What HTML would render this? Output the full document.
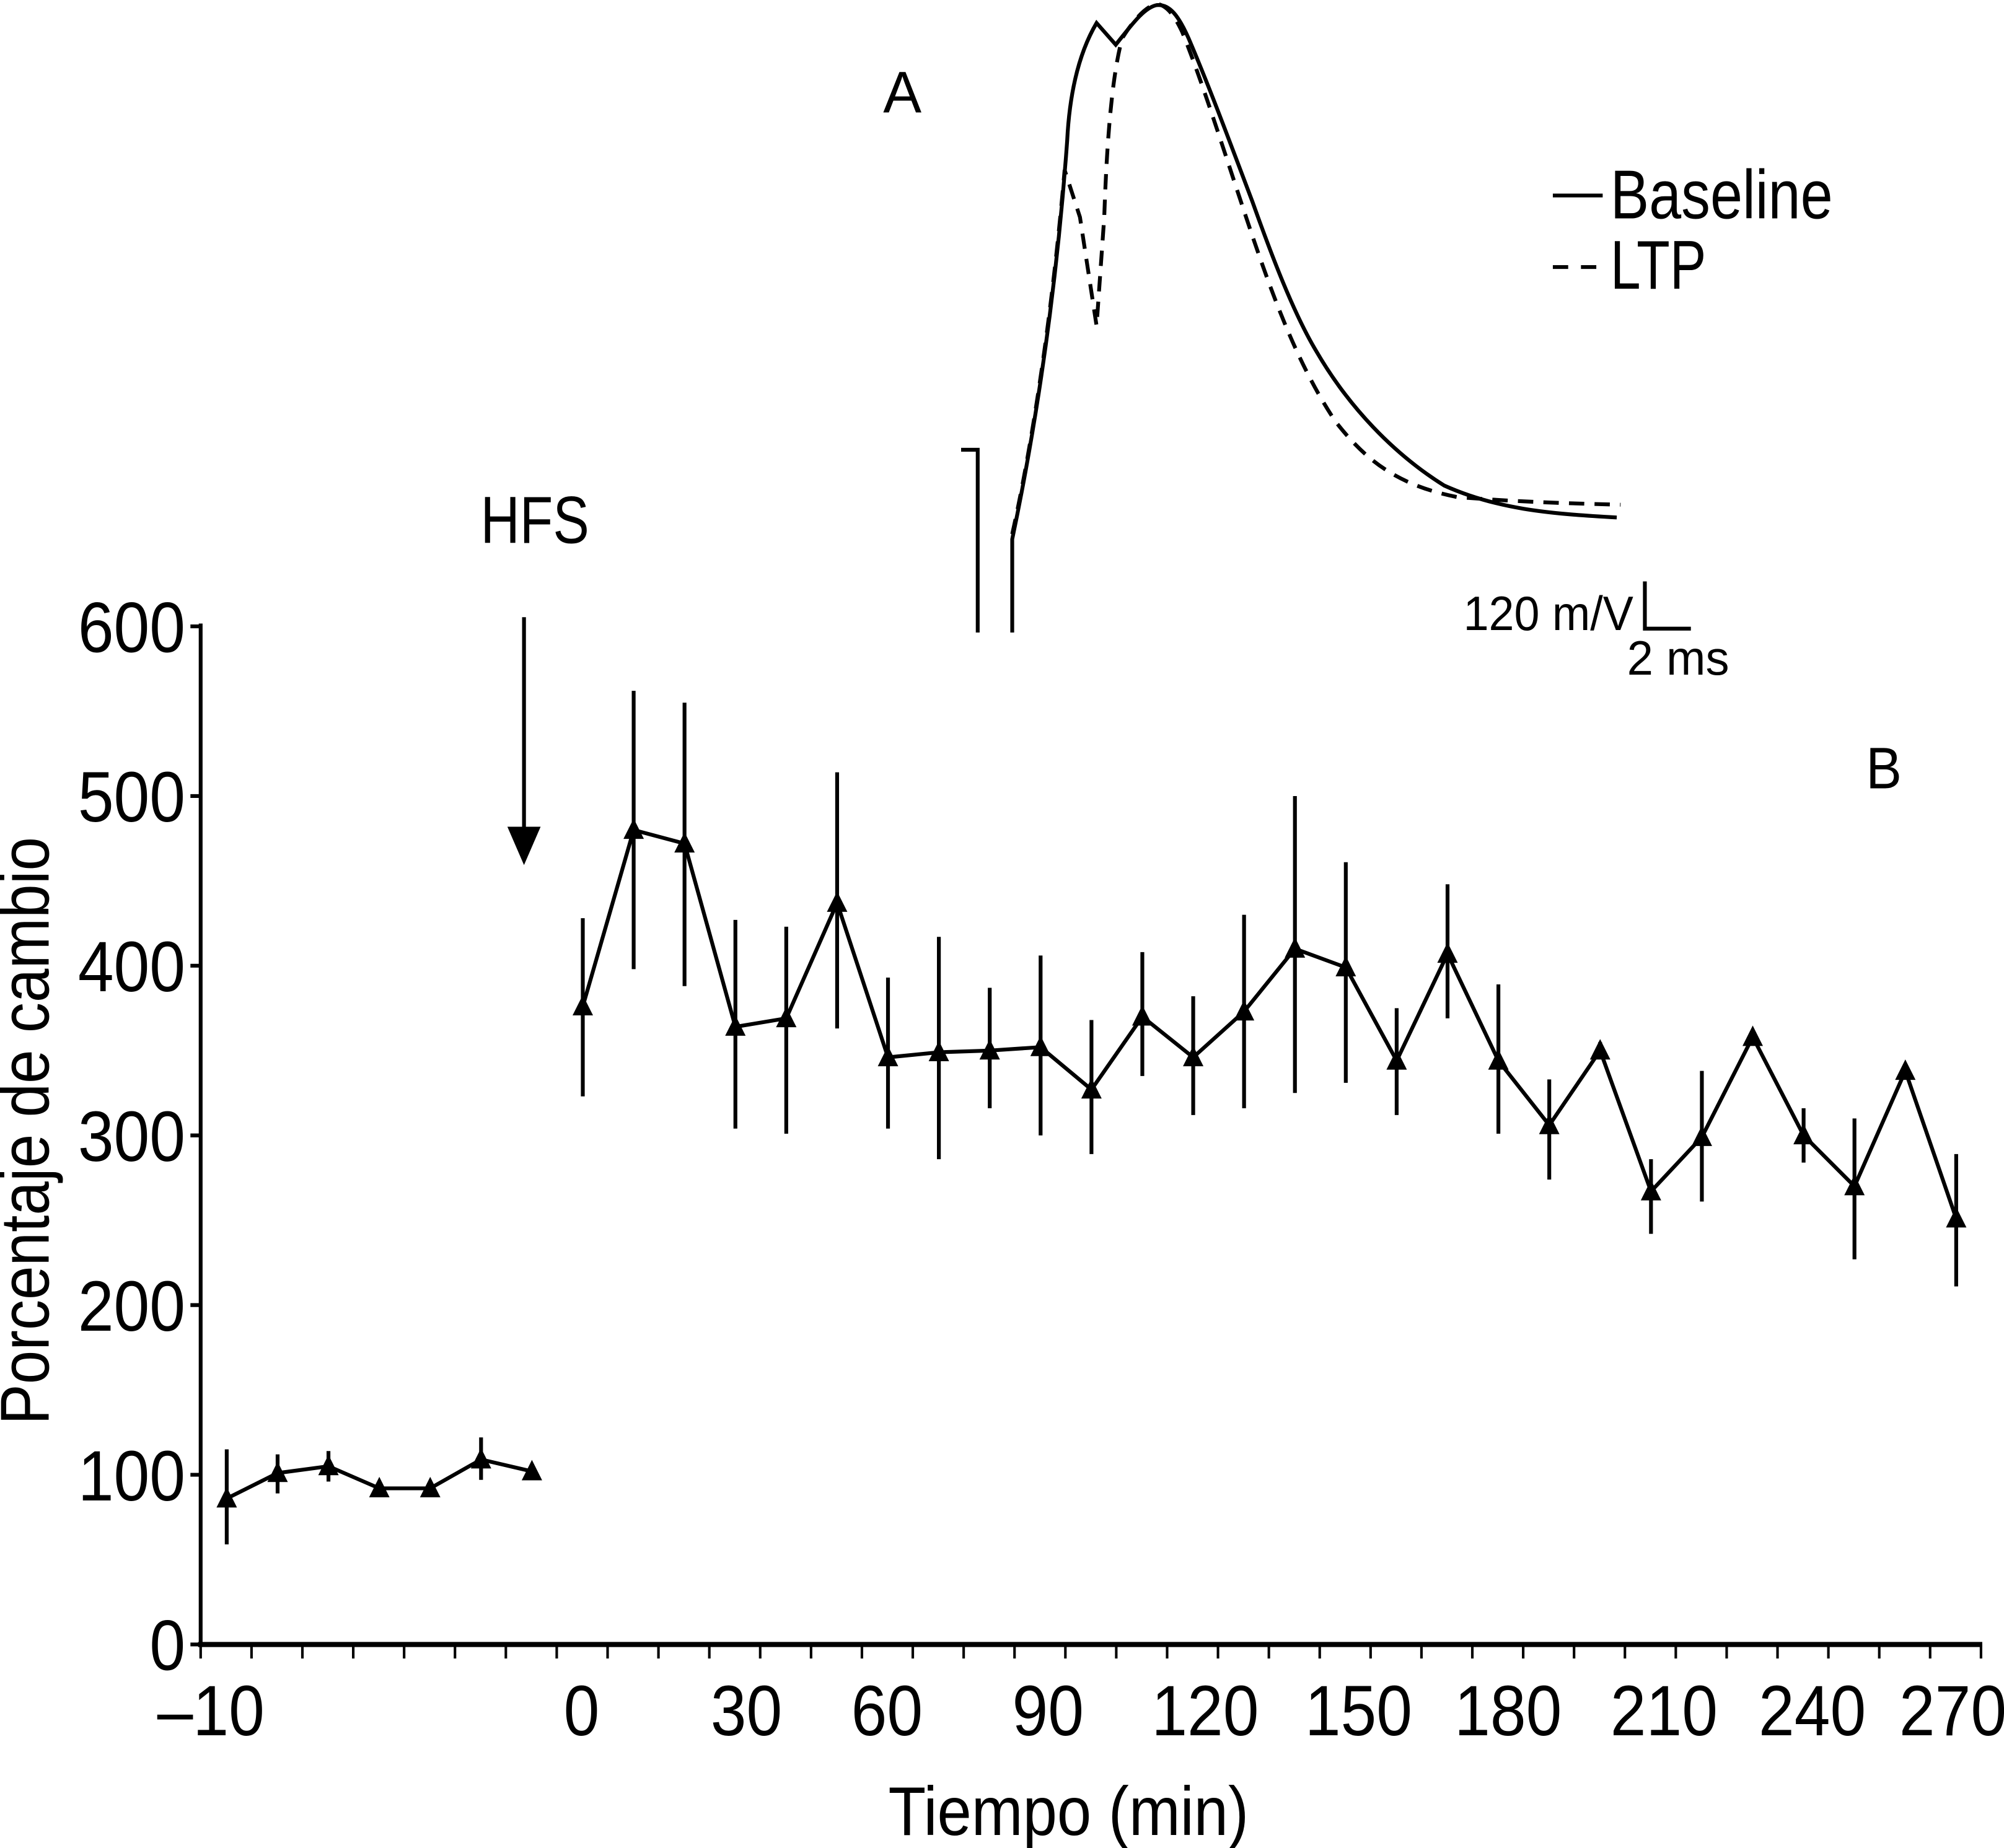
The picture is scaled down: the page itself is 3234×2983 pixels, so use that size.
<!DOCTYPE html>
<html><head><meta charset="utf-8"><style>
html,body{margin:0;padding:0;background:#fff;}
svg{display:block;}
text{font-family:"Liberation Sans",sans-serif;fill:#000;}
</style></head><body>
<svg id="chart" width="3234" height="2983" viewBox="0 0 1568 1446.3" xmlns="http://www.w3.org/2000/svg">
<g id="trace">
  <path d="M752,352 L765,352 L765,495" fill="none" stroke="#000" stroke-width="3"/>
  <path d="M792,495 L792,422 C805,360 825,250 835,110 C837,70 845,40 858,18 L873,35 C885,20 895,6 905,4 C915,3 922,12 930,30 C945,65 960,105 980,158 C995,200 1012,245 1030,275 C1055,318 1090,355 1130,380 C1170,398 1210,402 1265,405" fill="none" stroke="#000" stroke-width="3"/>
  <path d="M792,418 C805,360 822,260 833,133 L845,170 L858,255 L864,170 C866,110 870,60 878,30 C888,14 897,5 905,3 C912,4 918,10 925,25 C940,62 955,110 975,170 C995,230 1015,285 1045,330 C1070,362 1095,380 1140,389 C1190,393 1230,394 1268,395" fill="none" stroke="#000" stroke-width="3" stroke-dasharray="12,8"/>
  <text x="691" y="88" font-size="46" textLength="30" lengthAdjust="spacingAndGlyphs">A</text>
  <line x1="1215" y1="153" x2="1254" y2="153" stroke="#000" stroke-width="3"/>
  <text x="1260" y="171" font-size="54" textLength="174" lengthAdjust="spacingAndGlyphs">Baseline</text>
  <line x1="1215" y1="209" x2="1254" y2="209" stroke="#000" stroke-width="3" stroke-dasharray="12,10"/>
  <text x="1260" y="226" font-size="54" textLength="75" lengthAdjust="spacingAndGlyphs">LTP</text>
  <path d="M1287,455 L1287,492 L1323,492" fill="none" stroke="#000" stroke-width="3"/>
  <text x="1145" y="493" font-size="38" textLength="133" lengthAdjust="spacingAndGlyphs">120 m/V</text>
  <text x="1273" y="528" font-size="38" textLength="80" lengthAdjust="spacingAndGlyphs">2 ms</text>
</g>
<text x="376" y="425" font-size="52" textLength="85" lengthAdjust="spacingAndGlyphs">HFS</text>
<line x1="410" y1="483" x2="410" y2="650" stroke="#000" stroke-width="3"/>
<polygon points="397,647 423,647 410,677" fill="#000"/>
<text x="1460" y="617" font-size="46" textLength="28" lengthAdjust="spacingAndGlyphs">B</text>
<g id="axes"></g>
<g id="marks"></g>
<text transform="translate(38,885) rotate(-90)" text-anchor="middle" font-size="54" textLength="460" lengthAdjust="spacingAndGlyphs">Porcentaje de cambio</text>
<text x="836" y="1436" text-anchor="middle" font-size="54" textLength="282" lengthAdjust="spacingAndGlyphs">Tiempo (min)</text>
</svg>
<script>
const times = [-70,-60,-50,-40,-30,-20,-10,0,10,20,30,40,50,60,70,80,90,100,110,120,130,140,150,160,170,180,190,200,210,220,230,240,250,260,270];
const means = [86,101,105,92,92,109,102,376,480,472,364,369,437,346,349,350,352,327,370,346,373,410,399,344,407,344,306,350,267,299,358,300,270,338,251];
const errUp = [29,11,9,0,0,13,0,52,82,83,63,54,77,47,68,37,54,41,38,36,57,90,62,31,41,45,27,5,19,39,0,16,40,0,38];
const errDown = [27,12,9,0,0,12,0,53,82,84,60,68,74,42,63,34,52,38,35,34,57,85,68,32,38,43,32,5,25,38,0,16,43,0,40];
const yTicks = [0,100,200,300,400,500,600];
const xLabels = ["\u201310","0","30","60","90","120","150","180","210","240","270"];
const xLabelPos = [165,455,584,694,820,943,1063,1180,1302,1418,1528];
const NS="http://www.w3.org/2000/svg";
function xs(t){return 456+t*3.98;}
function ys(v){return 1287-v*1.328;}
function mk(tag,attrs,parent){const e=document.createElementNS(NS,tag);for(const k in attrs)e.setAttribute(k,attrs[k]);parent.appendChild(e);return e;}
const axes=document.getElementById('axes');
const marks=document.getElementById('marks');
let e;
e=mk('line',{x1:157,y1:488,x2:157,y2:1289,stroke:'#000','stroke-width':3},axes);


e=mk('line',{x1:155,y1:1287,x2:1551,y2:1287,stroke:'#000','stroke-width':4},axes);


yTicks.forEach(v=>{
  const t=mk('line',{x1:149,y1:ys(v),x2:157,y2:ys(v),stroke:'#000','stroke-width':3},axes);
  
  
  const l=mk('text',{x:145,y:ys(v)+20,'text-anchor':'end','font-size':56,textLength:String(v).length*28,lengthAdjust:'spacingAndGlyphs'},axes);
  l.textContent=v;
  
  
});
for(let i=0;i<=35;i++){
  const x=157+i*(1393/35);
  const t=mk('line',{x1:x,y1:1287,x2:x,y2:1298,stroke:'#000','stroke-width':2},axes);
  
  
}
xLabels.forEach((s,i)=>{
  const l=mk('text',{x:xLabelPos[i],y:1358,'text-anchor':'middle','font-size':56,textLength:s.length*28,lengthAdjust:'spacingAndGlyphs'},axes);
  l.textContent=s;
  
  
});
times.forEach((t,i)=>{
  if(errUp[i]+errDown[i]>0){
    const b=mk('line',{x1:xs(t),y1:ys(means[i]+errUp[i]),x2:xs(t),y2:ys(means[i]-errDown[i]),stroke:'#000','stroke-width':3},marks);
    
    
  }
});
function path(idx){return idx.map((i,k)=>(k?'L':'M')+xs(times[i])+','+ys(means[i])).join(' ');}
const pre=[],post=[];
times.forEach((t,i)=>{(t<0?pre:post).push(i);});
e=mk('path',{d:path(pre),fill:'none',stroke:'#000','stroke-width':3},marks);


e=mk('path',{d:path(post),fill:'none',stroke:'#000','stroke-width':3},marks);


times.forEach((t,i)=>{
  const x=xs(t),y=ys(means[i]);
  const p=mk('polygon',{points:`${x-8},${y+7} ${x+8},${y+7} ${x},${y-9}`,fill:'#000'},marks);
  
  
});
</script>
</body></html>
